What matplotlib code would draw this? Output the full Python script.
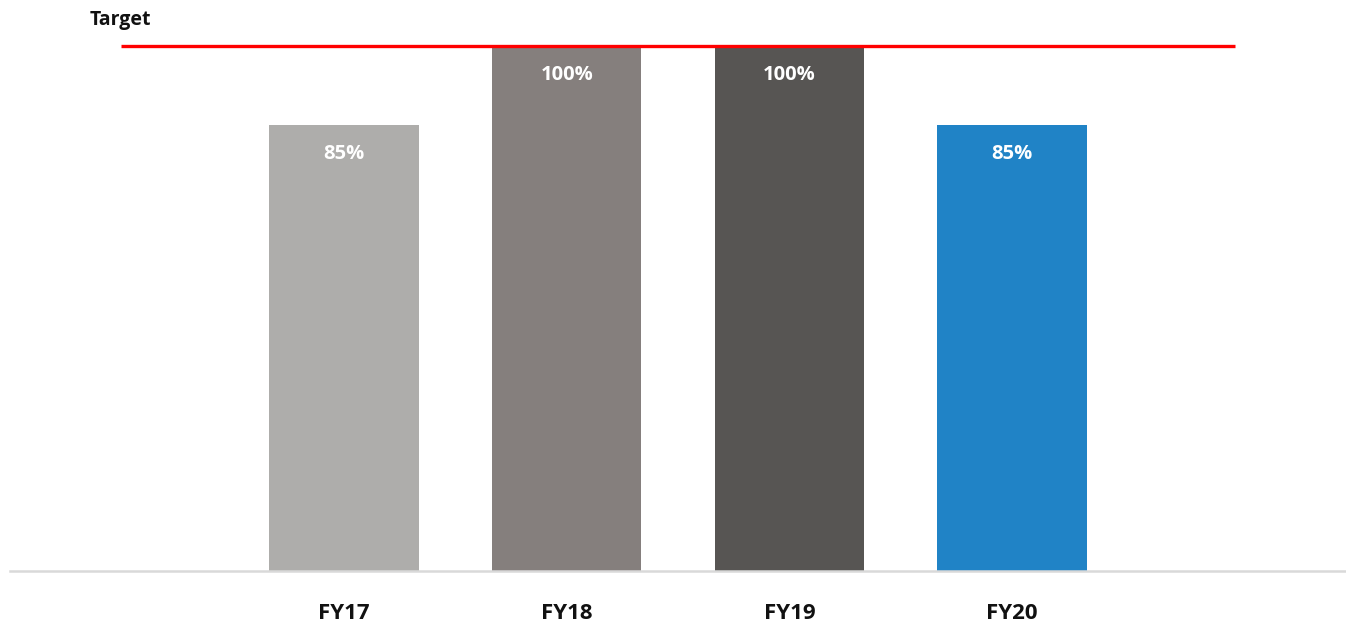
import matplotlib.pyplot as plt

plt.rcParams['font.family'] = ['Open Sans', 'DejaVu Sans']

years = ["FY17", "FY18", "FY19", "FY20"]
scores = [0.85, 1.00, 1.00, 0.85]
colors = ["#AEADAB", "#857F7D", "#575553", "#2083C6"]
target = 1.00

fig = plt.figure(figsize=(13.46, 6.24), dpi=100)
ax = fig.add_axes([10 / 1346, 53 / 624, 1336 / 1346, 551.25 / 624])

x = range(len(years))
ax.bar(x, scores, width=0.67, color=colors, zorder=2)

for i, v in enumerate(scores):
    ax.annotate(f"{v:.0%}", (i, v), xytext=(0, -21), textcoords="offset points",
                ha="center", va="center", color="white", fontsize=14.5,
                fontweight="bold")

# target line across the chart
ax.plot([-1.0, 4.0], [target, target], color="#FF0000", lw=2.4,
        solid_capstyle="butt", zorder=3)
fig.text(90 / 1346, 1 - 20 / 624, "Target", ha="left", va="center",
         fontsize=14, fontweight="bold", color="#111111")

ax.set_xlim(-1.5, 4.5)
ax.set_ylim(0, 1.05)
ax.set_xticks(list(x))
ax.set_xticklabels(years, fontsize=16, fontweight="bold", color="#111111")
ax.tick_params(axis="x", length=0, pad=23)
ax.set_yticks([])
for s in ["top", "right", "left"]:
    ax.spines[s].set_visible(False)
ax.spines["bottom"].set_color("#D9D9D9")
ax.spines["bottom"].set_linewidth(1.8)

fig.savefig("out.png", dpi=100)
